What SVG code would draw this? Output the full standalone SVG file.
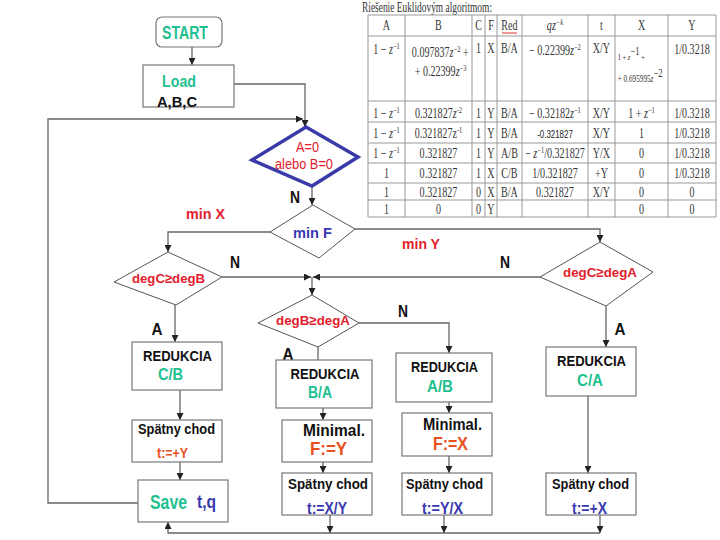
<svg xmlns="http://www.w3.org/2000/svg" width="720" height="540" viewBox="0 0 720 540">
<style>
.box{fill:#fff;stroke:#777;stroke-width:1.2}
.dia{fill:#fff;stroke:#555;stroke-width:1}
.con{fill:none;stroke:#666;stroke-width:1.3}
.b{font-family:"Liberation Sans",Arial,sans-serif;font-weight:bold;text-anchor:middle}
.n{font-family:"Liberation Sans",Arial,sans-serif;text-anchor:middle}
.k{fill:#111}
.tl{fill:#22bf8f}
.rd{fill:#e3202c}
.bl{fill:#3838b0}
.or{fill:#e8501e}
.grid line{stroke:#999;stroke-width:1}
.tc text{font-family:"Liberation Serif","Times New Roman",serif;font-size:14px;fill:#333;text-anchor:middle}
.s{font-size:9px}
</style>
<defs>
<marker id="ar" viewBox="0 0 10 10" refX="10" refY="5" markerWidth="7" markerHeight="7" markerUnits="userSpaceOnUse" orient="auto">
<path d="M0,0 L10,5 L0,10 z" fill="#222"/>
</marker>
</defs>
<rect width="720" height="540" fill="#fff"/>

<g id="table">
<text x="362" y="12" font-family="Liberation Serif, serif" font-size="14" fill="#333" textLength="130" lengthAdjust="spacingAndGlyphs">Riešenie Euklidovým algoritmom:</text>
<g class="grid">
<line x1="368" y1="15" x2="716" y2="15"/>
<line x1="368" y1="36" x2="716" y2="36"/>
<line x1="368" y1="101" x2="716" y2="101"/>
<line x1="368" y1="122" x2="716" y2="122"/>
<line x1="368" y1="143" x2="716" y2="143"/>
<line x1="368" y1="163" x2="716" y2="163"/>
<line x1="368" y1="183" x2="716" y2="183"/>
<line x1="368" y1="200" x2="716" y2="200"/>
<line x1="368" y1="217" x2="716" y2="217"/>
<line x1="368" y1="15" x2="368" y2="217"/>
<line x1="405" y1="15" x2="405" y2="217"/>
<line x1="472" y1="15" x2="472" y2="217"/>
<line x1="485" y1="15" x2="485" y2="217"/>
<line x1="497" y1="15" x2="497" y2="217"/>
<line x1="522" y1="15" x2="522" y2="217"/>
<line x1="588" y1="15" x2="588" y2="217"/>
<line x1="615" y1="15" x2="615" y2="217"/>
<line x1="668" y1="15" x2="668" y2="217"/>
<line x1="716" y1="15" x2="716" y2="217"/>
</g>
<line x1="502" y1="33" x2="517" y2="33" stroke="#e03030" stroke-width="1"/>
<g class="tc" transform="scale(0.72 1)">
<text x="536.8" y="30">A</text>
<text x="609" y="30">B</text>
<text x="664.6" y="30">C</text>
<text x="681.9" y="30">F</text>
<text x="707.6" y="30">Red</text>
<text x="770.8" y="30" font-style="italic">qz<tspan class="s" dy="-5">−k</tspan></text>
<text x="835.4" y="30">t</text>
<text x="891" y="30">X</text>
<text x="961.1" y="30">Y</text>

<text x="536.8" y="54">1 − <tspan font-style="italic">z</tspan><tspan class="s" dy="-5">−1</tspan></text>
<text x="572" y="57" style="text-anchor:start">0.097837<tspan font-style="italic">z</tspan><tspan class="s" dy="-5">−2</tspan><tspan dy="5"> +</tspan></text>
<text x="576" y="76" style="text-anchor:start">+ 0.22399<tspan font-style="italic">z</tspan><tspan class="s" dy="-5">−3</tspan></text>
<text x="664.6" y="53">1</text>
<text x="681.9" y="53">X</text>
<text x="707.6" y="53">B/A</text>
<text x="770.8" y="55">− 0.22399<tspan font-style="italic">z</tspan><tspan class="s" dy="-5">−2</tspan></text>
<text x="835.4" y="53">X/Y</text>
<text x="858" y="60" style="text-anchor:start;font-size:9px">1 + <tspan font-style="italic">z</tspan><tspan dy="-5" font-size="12">−1</tspan><tspan dy="5"> +</tspan></text>
<text x="858" y="82" style="text-anchor:start;font-size:10px">+ 0.695995<tspan font-style="italic">z</tspan><tspan dy="-5" font-size="12">−2</tspan></text>
<text x="961.1" y="54">1/0.3218</text>

<text x="536.8" y="118">1 − <tspan font-style="italic">z</tspan><tspan class="s" dy="-5">−1</tspan></text>
<text x="609" y="118">0.321827<tspan font-style="italic">z</tspan><tspan class="s" dy="-5">-2</tspan></text>
<text x="664.6" y="118">1</text>
<text x="681.9" y="118">Y</text>
<text x="707.6" y="118">B/A</text>
<text x="770.8" y="118">− 0.32182<tspan font-style="italic">z</tspan><tspan class="s" dy="-5">−1</tspan></text>
<text x="835.4" y="118">X/Y</text>
<text x="891" y="118">1 + <tspan font-style="italic">z</tspan><tspan class="s" dy="-5">−1</tspan></text>
<text x="961.1" y="118">1/0.3218</text>

<text x="536.8" y="138">1 − <tspan font-style="italic">z</tspan><tspan class="s" dy="-5">−1</tspan></text>
<text x="609" y="138">0.321827z<tspan class="s" dy="-5">-1</tspan></text>
<text x="664.6" y="138">1</text>
<text x="681.9" y="138">Y</text>
<text x="707.6" y="138">B/A</text>
<text x="770.8" y="138" style="font-family:'Liberation Sans',Arial,sans-serif;font-size:11px;fill:#222">-0.321827</text>
<text x="835.4" y="138">X/Y</text>
<text x="891" y="138">1</text>
<text x="961.1" y="138">1/0.3218</text>

<text x="536.8" y="158">1 − <tspan font-style="italic">z</tspan><tspan class="s" dy="-5">−1</tspan></text>
<text x="609" y="158">0.321827</text>
<text x="664.6" y="158">1</text>
<text x="681.9" y="158">Y</text>
<text x="707.6" y="158">A/B</text>
<text x="770.8" y="158">− <tspan font-style="italic">z</tspan><tspan class="s" dy="-5">−1</tspan><tspan dy="5">/0.321827</tspan></text>
<text x="835.4" y="158">Y/X</text>
<text x="891" y="158">0</text>
<text x="961.1" y="158">1/0.3218</text>

<text x="536.8" y="178">1</text>
<text x="609" y="178">0.321827</text>
<text x="664.6" y="178">1</text>
<text x="681.9" y="178">X</text>
<text x="707.6" y="178">C/B</text>
<text x="770.8" y="178">1/0.321827</text>
<text x="835.4" y="178">+Y</text>
<text x="891" y="178">0</text>
<text x="961.1" y="178">1/0.3218</text>

<text x="536.8" y="197">1</text>
<text x="609" y="197">0.321827</text>
<text x="664.6" y="197">0</text>
<text x="681.9" y="197">X</text>
<text x="707.6" y="197">B/A</text>
<text x="770.8" y="197">0.321827</text>
<text x="835.4" y="197">X/Y</text>
<text x="891" y="197">0</text>
<text x="961.1" y="197">0</text>

<text x="536.8" y="214">1</text>
<text x="609" y="214">0</text>
<text x="664.6" y="214">0</text>
<text x="681.9" y="214">Y</text>
<text x="891" y="214">0</text>
<text x="961.1" y="214">0</text>
</g>
</g>

<g id="connectors">
<path class="con" d="M192,47 V65" marker-end="url(#ar)"/>
<path class="con" d="M234,84 H305 V127" marker-end="url(#ar)"/>
<path class="con" d="M138,503 H48 V119 H303" marker-end="url(#ar)"/>
<path class="con" d="M312,186 V205" marker-end="url(#ar)"/>
<path class="con" d="M270,232 H168 V252" marker-end="url(#ar)"/>
<path class="con" d="M354,229 H600 V242" marker-end="url(#ar)"/>
<path class="con" d="M222,277 H311" marker-end="url(#ar)"/>
<path class="con" d="M540,277 H313" marker-end="url(#ar)"/>
<path class="con" d="M312,277 V295" marker-end="url(#ar)"/>
<path class="con" d="M359,323 H449 V353" marker-end="url(#ar)"/>
<path class="con" d="M318,347 V360"/>
<path class="con" d="M175,305 V342" marker-end="url(#ar)"/>
<path class="con" d="M606,306 V347" marker-end="url(#ar)"/>
<path class="con" d="M180,390 V420" marker-end="url(#ar)"/>
<path class="con" d="M180,462 V480" marker-end="url(#ar)"/>
<path class="con" d="M323,408 V420" marker-end="url(#ar)"/>
<path class="con" d="M323,462 V473" marker-end="url(#ar)"/>
<path class="con" d="M330,515 V533" marker-end="url(#ar)"/>
<path class="con" d="M449,402 V413" marker-end="url(#ar)"/>
<path class="con" d="M449,456 V473" marker-end="url(#ar)"/>
<path class="con" d="M444,515 V533" marker-end="url(#ar)"/>
<path class="con" d="M588,396 V473" marker-end="url(#ar)"/>
<path class="con" d="M600,515 V533" marker-end="url(#ar)"/>
<path class="con" d="M600,533 H168 V522" marker-end="url(#ar)"/>
</g>

<g id="start">
<rect class="box" x="156" y="17" width="66" height="30" rx="6"/>
<text class="b tl" x="185" y="39" font-size="18" textLength="46" lengthAdjust="spacingAndGlyphs">START</text>
</g>
<g id="load">
<rect class="box" x="143" y="65" width="91" height="42"/>
<text class="b tl" x="179" y="87" font-size="16.5" textLength="34" lengthAdjust="spacingAndGlyphs">Load</text>
<text class="b k" x="177" y="107" font-size="15" textLength="40" lengthAdjust="spacingAndGlyphs">A,B,C</text>
</g>
<g id="test-zero">
<polygon points="306,127 358,157 312,186 252,160" fill="#fff" stroke="#3a3aa8" stroke-width="3.5" stroke-linejoin="miter"/>
<text class="n rd" x="307.5" y="152" font-size="14" textLength="23" lengthAdjust="spacingAndGlyphs">A=0</text>
<text class="n rd" x="304" y="169" font-size="14" textLength="58" lengthAdjust="spacingAndGlyphs">alebo B=0</text>
</g>
<g id="min-f">
<polygon class="dia" points="313,205 355,229 319,258 270,232"/>
<text class="b bl" x="312.5" y="238" font-size="15" textLength="39" lengthAdjust="spacingAndGlyphs">min F</text>
</g>
<g id="degc-degb">
<polygon class="dia" points="168,252 222,277 176,305 114,282"/>
<text class="b rd" x="168.5" y="283" font-size="13.5" textLength="73" lengthAdjust="spacingAndGlyphs">degC≥degB</text>
</g>
<g id="degc-dega">
<polygon class="dia" points="600,242 653,272 606,306 540,277"/>
<text class="b rd" x="600" y="277" font-size="13.5" textLength="74" lengthAdjust="spacingAndGlyphs">degC≥degA</text>
</g>
<g id="degb-dega">
<polygon class="dia" points="312,295 359,323 318,347 258,323"/>
<text class="b rd" x="313" y="325" font-size="13.5" textLength="74" lengthAdjust="spacingAndGlyphs">degB≥degA</text>
</g>

<g id="labels">
<text class="b k" x="295" y="203" font-size="16" textLength="10" lengthAdjust="spacingAndGlyphs">N</text>
<text class="b rd" x="205.5" y="219" font-size="15" textLength="39" lengthAdjust="spacingAndGlyphs">min X</text>
<text class="b rd" x="421" y="249" font-size="15" textLength="38" lengthAdjust="spacingAndGlyphs">min Y</text>
<text class="b k" x="235" y="268" font-size="16" textLength="10" lengthAdjust="spacingAndGlyphs">N</text>
<text class="b k" x="505" y="268" font-size="16" textLength="10" lengthAdjust="spacingAndGlyphs">N</text>
<text class="b k" x="403" y="317" font-size="16" textLength="10" lengthAdjust="spacingAndGlyphs">N</text>
<text class="b k" x="157" y="335" font-size="17" textLength="11" lengthAdjust="spacingAndGlyphs">A</text>
<text class="b k" x="288" y="360" font-size="17" textLength="11" lengthAdjust="spacingAndGlyphs">A</text>
<text class="b k" x="620" y="335" font-size="17" textLength="11" lengthAdjust="spacingAndGlyphs">A</text>
</g>

<g id="red-cb">
<rect class="box" x="132" y="342" width="90" height="48"/>
<text class="b k" x="177.5" y="361" font-size="15" textLength="69" lengthAdjust="spacingAndGlyphs">REDUKCIA</text>
<text class="b tl" x="170.5" y="380" font-size="17" textLength="25" lengthAdjust="spacingAndGlyphs">C/B</text>
</g>
<g id="back-y">
<rect class="box" x="132" y="420" width="90" height="42"/>
<text class="b k" x="176.5" y="434" font-size="14.5" textLength="77" lengthAdjust="spacingAndGlyphs">Spätny chod</text>
<text class="b or" x="172.5" y="458" font-size="15" textLength="31" lengthAdjust="spacingAndGlyphs">t:=+Y</text>
</g>
<g id="save">
<rect class="box" x="138" y="480" width="90" height="42"/>
<text class="b tl" x="168.5" y="509" font-size="19.5" textLength="37" lengthAdjust="spacingAndGlyphs">Save</text>
<text class="b bl" x="206.5" y="508" font-size="19" textLength="19" lengthAdjust="spacingAndGlyphs">t,q</text>
</g>

<g id="red-ba">
<rect class="box" x="276" y="360" width="96" height="48"/>
<text class="b k" x="325" y="379" font-size="15" textLength="69" lengthAdjust="spacingAndGlyphs">REDUKCIA</text>
<text class="b tl" x="320" y="398" font-size="17" textLength="24" lengthAdjust="spacingAndGlyphs">B/A</text>
</g>
<g id="min-y">
<rect class="box" x="282" y="420" width="90" height="42"/>
<text class="b k" x="334" y="436" font-size="17" textLength="62" lengthAdjust="spacingAndGlyphs">Minimal.</text>
<text class="b or" x="328.5" y="455" font-size="18" textLength="37" lengthAdjust="spacingAndGlyphs">F:=Y</text>
</g>
<g id="back-xy">
<rect class="box" x="282" y="473" width="90" height="42"/>
<text class="b k" x="328" y="489" font-size="14.5" textLength="80" lengthAdjust="spacingAndGlyphs">Spätny chod</text>
<text class="b bl" x="327" y="514" font-size="16" textLength="40" lengthAdjust="spacingAndGlyphs">t:=X/Y</text>
</g>

<g id="red-ab">
<rect class="box" x="396" y="353" width="96" height="49"/>
<text class="b k" x="444.5" y="372" font-size="15" textLength="67" lengthAdjust="spacingAndGlyphs">REDUKCIA</text>
<text class="b tl" x="440" y="392" font-size="17" textLength="26" lengthAdjust="spacingAndGlyphs">A/B</text>
</g>
<g id="min-x">
<rect class="box" x="402" y="413" width="90" height="43"/>
<text class="b k" x="452.5" y="430" font-size="17" textLength="59" lengthAdjust="spacingAndGlyphs">Minimal.</text>
<text class="b or" x="450.5" y="450" font-size="18" textLength="35" lengthAdjust="spacingAndGlyphs">F:=X</text>
</g>
<g id="back-yx">
<rect class="box" x="402" y="473" width="90" height="42"/>
<text class="b k" x="444.5" y="489" font-size="14.5" textLength="77" lengthAdjust="spacingAndGlyphs">Spätny chod</text>
<text class="b bl" x="442.5" y="514" font-size="16" textLength="41" lengthAdjust="spacingAndGlyphs">t:=Y/X</text>
</g>

<g id="red-ca">
<rect class="box" x="546" y="347" width="90" height="49"/>
<text class="b k" x="591.5" y="366" font-size="15" textLength="69" lengthAdjust="spacingAndGlyphs">REDUKCIA</text>
<text class="b tl" x="590" y="386" font-size="17" textLength="26" lengthAdjust="spacingAndGlyphs">C/A</text>
</g>
<g id="back-x">
<rect class="box" x="546" y="473" width="90" height="42"/>
<text class="b k" x="590.5" y="489" font-size="14.5" textLength="77" lengthAdjust="spacingAndGlyphs">Spätny chod</text>
<text class="b bl" x="589.5" y="514" font-size="16" textLength="35" lengthAdjust="spacingAndGlyphs">t:=+X</text>
</g>
</svg>
